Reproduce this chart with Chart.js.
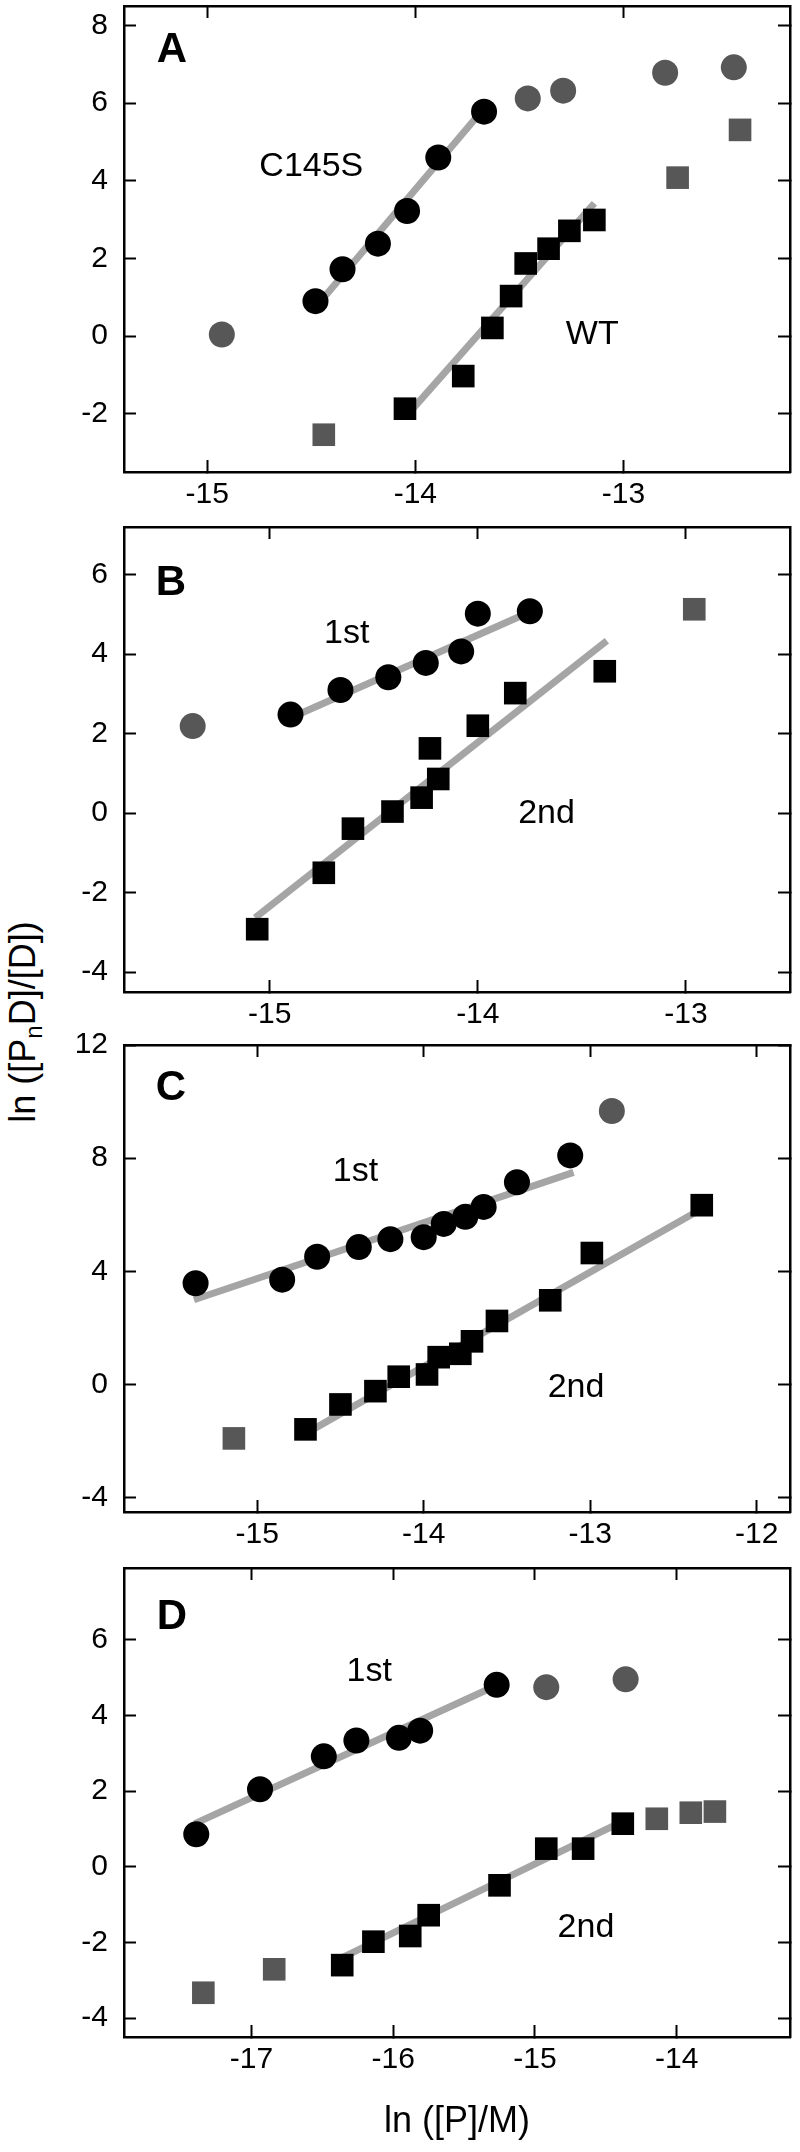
<!DOCTYPE html>
<html><head><meta charset="utf-8">
<script src="https://cdn.jsdelivr.net/npm/chart.js@4"></script>
<style>
html,body{margin:0;padding:0;background:#fff;}
body{width:800px;height:2152px;position:relative;overflow:hidden;}
canvas{position:absolute;left:0;}
#ytitle{position:absolute;left:23px;top:1022px;transform:translate(-50%,-50%) rotate(-90deg);font-family:"Liberation Sans",Arial,Helvetica,sans-serif;font-size:36px;line-height:36px;white-space:nowrap;color:#000;}
#ytitle sub{font-size:24px;vertical-align:-7px;line-height:0;}
</style></head><body>
<div id="ytitle">ln ([P<sub>n</sub>D]/[D])</div>
<canvas id="cA"></canvas><canvas id="cB"></canvas><canvas id="cC"></canvas><canvas id="cD"></canvas>
<script>
// ---------- DATA ----------
// Panel A
const aXTicks = [-15, -14, -13];
const aYTicks = [-2, 0, 2, 4, 6, 8];
const aC145SX = [-14.48, -14.35, -14.18, -14.04, -13.89, -13.67];
const aC145SY = [0.90, 1.72, 2.38, 3.22, 4.60, 5.78];
const aC145SOutX = [-14.93, -13.46, -13.29, -12.80, -12.47];
const aC145SOutY = [0.04, 6.12, 6.32, 6.78, 6.92];
const aWTX = [-14.05, -13.77, -13.63, -13.54, -13.47, -13.36, -13.26, -13.14];
const aWTY = [-1.87, -1.03, 0.21, 1.03, 1.87, 2.25, 2.71, 2.99];
const aWTOutX = [-14.44, -12.74, -12.44];
const aWTOutY = [-2.54, 4.08, 5.31];
const aC145SFitX = [-14.47, -13.68], aC145SFitY = [0.80, 5.80];
const aWTFitX = [-14.05, -13.14], aWTFitY = [-2.10, 3.42];

// Panel B
const bXTicks = [-15, -14, -13];
const bYTicks = [-4, -2, 0, 2, 4, 6];
const b1stX = [-14.90, -14.66, -14.43, -14.25, -14.08, -14.00, -13.75];
const b1stY = [2.48, 3.10, 3.42, 3.78, 4.07, 5.02, 5.08];
const b1stOutX = [-15.37], b1stOutY = [2.19];
const b2ndX = [-15.06, -14.74, -14.60, -14.41, -14.27, -14.23, -14.19, -14.00, -13.82, -13.39];
const b2ndY = [-2.92, -1.50, -0.39, 0.04, 0.39, 1.63, 0.86, 2.20, 3.02, 3.57];
const b2ndOutX = [-12.96], b2ndOutY = [5.13];
const b1stFitX = [-14.89, -13.75], b1stFitY = [2.42, 5.06];
const b2ndFitX = [-15.07, -13.38], b2ndFitY = [-2.63, 4.34];

// Panel C
const cXTicks = [-15, -14, -13, -12];
const cYTicks = [-4, 0, 4, 8, 12];
const c1stX = [-15.37, -14.85, -14.64, -14.39, -14.20, -14.00, -13.88, -13.75, -13.64, -13.44, -13.12];
const c1stY = [3.58, 3.71, 4.52, 4.86, 5.14, 5.21, 5.68, 5.93, 6.28, 7.15, 8.10];
const c1stOutX = [-12.87], c1stOutY = [9.67];
const c2ndX = [-14.71, -14.50, -14.29, -14.15, -13.98, -13.91, -13.78, -13.71, -13.56, -13.24, -12.99, -12.33];
const c2ndY = [-1.58, -0.70, -0.23, 0.28, 0.36, 0.97, 1.09, 1.53, 2.25, 2.98, 4.65, 6.34];
const c2ndOutX = [-15.14], c2ndOutY = [-1.90];
const c1stFitX = [-15.38, -13.10], c1stFitY = [3.00, 7.50];
const c2ndFitX = [-14.71, -12.34], c2ndFitY = [-1.73, 6.18];

// Panel D
const dXTicks = [-17, -16, -15, -14];
const dYTicks = [-4, -2, 0, 2, 4, 6];
const d1stX = [-17.39, -16.94, -16.49, -16.26, -15.96, -15.81, -15.27];
const d1stY = [0.86, 2.05, 2.92, 3.34, 3.41, 3.60, 4.81];
const d1stOutX = [-14.92, -14.36], d1stOutY = [4.75, 4.96];
const d2ndX = [-16.36, -16.14, -15.88, -15.75, -15.25, -14.92, -14.66, -14.38];
const d2ndY = [-2.60, -1.98, -1.83, -1.28, -0.49, 0.48, 0.48, 1.14];
const d2ndOutX = [-17.34, -16.84, -14.14, -13.90, -13.73];
const d2ndOutY = [-3.33, -2.71, 1.27, 1.43, 1.46];
const d1stFitX = [-17.40, -15.28], d1stFitY = [1.14, 4.78];
const d2ndFitX = [-16.36, -14.37], d2ndFitY = [-2.40, 1.22];

const xTitle = 'ln ([P]/M)';

// ---------- STYLE ----------
const FONT = '"Liberation Sans", Arial, Helvetica, sans-serif';
const BLACK = '#000000', GRAY = '#575757', LINE = '#a5a5a5';

function pairs(xs, ys) { return xs.map((x, i) => ({x: x, y: ys[i]})); }
function circles(xs, ys, color) {
  return {data: pairs(xs, ys), pointStyle: 'circle', pointRadius: 13, pointHoverRadius: 13,
    backgroundColor: color, borderColor: color, borderWidth: 0, showLine: false, order: 1};
}
function squares(xs, ys, color) {
  return {data: pairs(xs, ys), pointStyle: 'rect', pointRadius: 16, pointHoverRadius: 16,
    backgroundColor: color, borderColor: color, borderWidth: 0, showLine: false, order: 1};
}
function fit(xs, ys) {
  return {data: pairs(xs, ys), showLine: true, pointRadius: 0, pointHoverRadius: 0,
    borderColor: LINE, borderWidth: 7, borderCapStyle: 'butt', fill: false, order: 2};
}

const textPlugin = {
  id: 'panelText',
  afterDatasetsDraw(chart, args, opts) {
    const ctx = chart.ctx, ca = chart.chartArea, sx = chart.scales.x, sy = chart.scales.y;
    ctx.save();
    ctx.fillStyle = '#000';
    ctx.textAlign = 'center';
    ctx.textBaseline = 'middle';
    ctx.font = 'bold 42px ' + FONT;
    ctx.fillText(opts.letter, ca.left + opts.letterDX, ca.top + opts.letterDY);
    ctx.font = '34px ' + FONT;
    (opts.labels || []).forEach(l => ctx.fillText(l.text, sx.getPixelForValue(l.x), sy.getPixelForValue(l.y)));
    ctx.restore();
  }
};

function axis(pos, min, max, ticks, showLabels, fitSize, extra) {
  const horiz = pos === 'top' || pos === 'bottom';
  return Object.assign({
    type: 'linear', position: pos, min: min, max: max,
    afterBuildTicks: s => { s.ticks = ticks.map(v => ({value: v})); },
    afterFit: s => {
      if (horiz) s.height = fitSize; else s.width = fitSize;
      s.paddingTop = 0; s.paddingBottom = 0; s.paddingLeft = 0; s.paddingRight = 0;
    },
    ticks: {display: showLabels, color: '#000', font: {family: FONT, size: 30, lineHeight: 1.2},
      padding: horiz ? 17 : 28, maxRotation: 0, minRotation: 0, autoSkip: false,
      callback: v => String(v)},
    grid: {display: true, drawOnChartArea: false, drawTicks: true, tickLength: -12,
      tickWidth: 2, tickColor: '#000'},
    border: {display: true, color: '#000', width: 2.5}
  }, extra || {});
}

function panel(p) {
  const padTop = Math.min(40, p.top);
  const canvasTop = p.top - padTop;
  const canvasH = p.canvasBottom - canvasTop;
  const xH = canvasH - (p.bottom - canvasTop);
  const cv = document.getElementById(p.id);
  cv.width = 800; cv.height = canvasH;
  cv.style.top = canvasTop + 'px';
  cv.style.width = '800px'; cv.style.height = canvasH + 'px';
  const xExtra = p.title ? {title: {display: true, text: p.title, color: '#000',
    font: {family: FONT, size: 36, lineHeight: 1.2}, padding: {top: 0, bottom: p.titlePadBottom}}} : {};
  new Chart(cv, {
    type: 'scatter',
    data: {datasets: p.datasets},
    options: {
      responsive: false, animation: false, devicePixelRatio: 1,
      layout: {padding: {left: 0, right: 10, top: padTop, bottom: 0}, autoPadding: false},
      plugins: {legend: {display: false}, tooltip: {enabled: false},
        panelText: {letter: p.letter, letterDX: p.letterDX, letterDY: p.letterDY, labels: p.labels}},
      scales: {
        x: axis('bottom', p.xmin, p.xmax, p.xTicks, true, xH, xExtra),
        x2: axis('top', p.xmin, p.xmax, p.xTicks, false, 0),
        y: axis('left', p.ymin, p.ymax, p.yTicks, true, 124),
        y2: axis('right', p.ymin, p.ymax, p.yTicks, false, 0)
      }
    },
    plugins: [textPlugin]
  });
}

panel({id: 'cA', top: 6, bottom: 472, canvasBottom: 522,
  xmin: -15.4, xmax: -12.2, ymin: -3.5, ymax: 8.5, xTicks: aXTicks, yTicks: aYTicks,
  letter: 'A', letterDX: 48, letterDY: 44,
  labels: [{text: 'C145S', x: -14.50, y: 4.37}, {text: 'WT', x: -13.15, y: 0.04}],
  datasets: [circles(aC145SX, aC145SY, BLACK), circles(aC145SOutX, aC145SOutY, GRAY),
    squares(aWTX, aWTY, BLACK), squares(aWTOutX, aWTOutY, GRAY),
    fit(aC145SFitX, aC145SFitY), fit(aWTFitX, aWTFitY)]});

panel({id: 'cB', top: 527, bottom: 992, canvasBottom: 1042,
  xmin: -15.7, xmax: -12.5, ymin: -4.5, ymax: 7.2, xTicks: bXTicks, yTicks: bYTicks,
  letter: 'B', letterDX: 47, letterDY: 56,
  labels: [{text: '1st', x: -14.63, y: 4.51}, {text: '2nd', x: -13.67, y: -0.02}],
  datasets: [circles(b1stX, b1stY, BLACK), circles(b1stOutX, b1stOutY, GRAY),
    squares(b2ndX, b2ndY, BLACK), squares(b2ndOutX, b2ndOutY, GRAY),
    fit(b1stFitX, b1stFitY), fit(b2ndFitX, b2ndFitY)]});

panel({id: 'cC', top: 1045, bottom: 1512, canvasBottom: 1562,
  xmin: -15.8, xmax: -11.8, ymin: -4.5, ymax: 12, xTicks: cXTicks, yTicks: cYTicks,
  letter: 'C', letterDX: 47, letterDY: 43,
  labels: [{text: '1st', x: -14.41, y: 7.51}, {text: '2nd', x: -13.085, y: -0.09}],
  datasets: [circles(c1stX, c1stY, BLACK), circles(c1stOutX, c1stOutY, GRAY),
    squares(c2ndX, c2ndY, BLACK), squares(c2ndOutX, c2ndOutY, GRAY),
    fit(c1stFitX, c1stFitY), fit(c2ndFitX, c2ndFitY)]});

panel({id: 'cD', top: 1568, bottom: 2037, canvasBottom: 2152,
  xmin: -17.9, xmax: -13.2, ymin: -4.5, ymax: 7.9, xTicks: dXTicks, yTicks: dYTicks,
  letter: 'D', letterDX: 48, letterDY: 49, title: xTitle, titlePadBottom: 8,
  labels: [{text: '1st', x: -16.17, y: 5.15}, {text: '2nd', x: -14.64, y: -1.62}],
  datasets: [circles(d1stX, d1stY, BLACK), circles(d1stOutX, d1stOutY, GRAY),
    squares(d2ndX, d2ndY, BLACK), squares(d2ndOutX, d2ndOutY, GRAY),
    fit(d1stFitX, d1stFitY), fit(d2ndFitX, d2ndFitY)]});
</script>
</body></html>
